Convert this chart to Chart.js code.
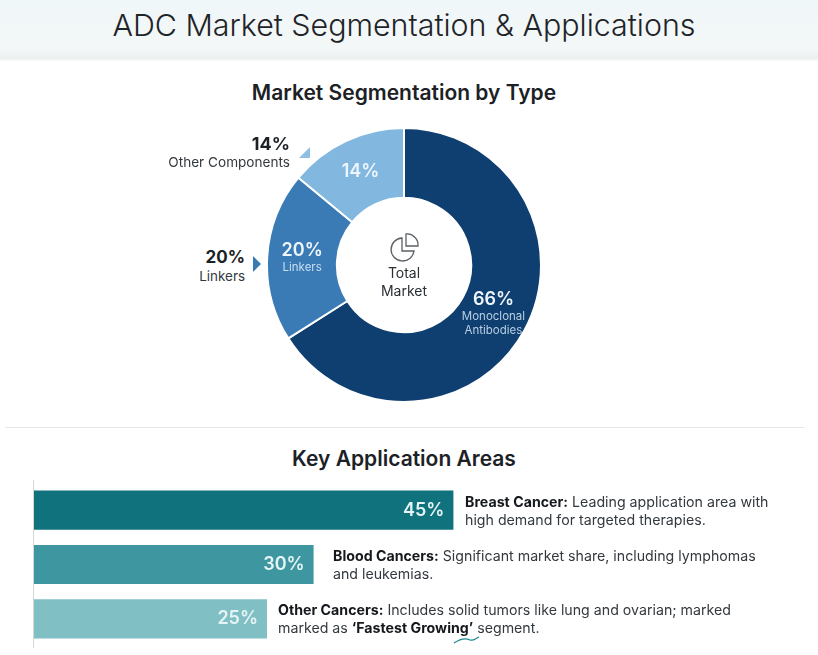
<!DOCTYPE html>
<html>
<head>
<meta charset="utf-8">
<title>ADC Market Segmentation & Applications</title>
<script src="https://cdn.jsdelivr.net/npm/chart.js@4"></script>
<style>
html, body { margin: 0; padding: 0; background: #fff; }
body { width: 818px; height: 655px; position: relative; overflow: hidden; font-family: Inter, sans-serif; color: #1c2126; }
.t { position: absolute; white-space: nowrap; line-height: 1; }
.c { transform: translateX(-50%); text-align: center; }
.r { text-align: right; }
#header { position: absolute; left: 0; top: 0; width: 818px; height: 59px; background: linear-gradient(#f0f7f8, #f3f7f8 80%, #ecf0f0); box-shadow: 0 1px 2px rgba(0, 0, 0, 0.08); }
#divider { position: absolute; left: 5px; top: 427px; width: 799px; height: 1px; background: #e3e7e8; }
#axisLine { position: absolute; left: 33px; top: 480px; width: 1px; height: 168px; background: #d5d8d9; }
canvas { position: absolute; }
.desc { font-size: 14.2px; color: #33393e; }
.desc b { color: #15191d; font-weight: 700; }
svg { position: absolute; overflow: visible; }
</style>
</head>
<body>
<div id="header"></div>
<div class="t c" style="left:404px;top:10px;font-size:30.4px;font-weight:300;color:#1f2428">ADC Market Segmentation &amp; Applications</div>
<div class="t c" style="left:404px;top:82px;font-size:21px;font-weight:600">Market Segmentation by Type</div>

<canvas id="donut" style="left:264px;top:125px" width="280" height="280"></canvas>

<div class="t r" style="right:528px;top:135px;font-size:18px;font-weight:700">14%</div>
<div class="t r" style="right:528px;top:156px;font-size:13.6px;color:#33393e">Other Components</div>
<svg style="left:299px;top:147px" width="12" height="12"><path d="M11 0V11H0Z" fill="#8fc0e4"/></svg>
<div class="t r" style="right:573px;top:249px;font-size:17px;font-weight:700">20%</div>
<div class="t r" style="right:573px;top:270px;font-size:13.4px;color:#33393e">Linkers</div>
<svg style="left:253px;top:256px" width="9" height="16"><path d="M0 0L8 8L0 16Z" fill="#3a7ab2"/></svg>

<svg style="left:389px;top:232px" width="30" height="30" fill="none" stroke="#5a6066" stroke-width="1.3">
  <path d="M13 6A11.5 11.5 0 1 0 25 19H13Z"/>
  <path d="M17 2A11 11 0 0 1 29 14H17Z"/>
</svg>
<div class="t c" style="left:404px;top:266px;font-size:14px;color:#2b3035">Total</div>
<div class="t c" style="left:404px;top:284px;font-size:14px;color:#2b3035">Market</div>

<div id="divider"></div>
<div class="t c" style="left:404px;top:448px;font-size:21px;font-weight:600">Key Application Areas</div>

<div id="axisLine"></div>
<canvas id="bars" style="left:34px;top:483px" width="466" height="163"></canvas>

<div class="t desc" style="left:465px;top:495px"><b>Breast Cancer:</b> Leading application area with</div>
<div class="t desc" style="left:465px;top:513px">high demand for targeted therapies.</div>
<div class="t desc" style="left:333px;top:549px"><b>Blood Cancers:</b> Significant market share, including lymphomas</div>
<div class="t desc" style="left:333px;top:567px">and leukemias.</div>
<div class="t desc" style="left:278px;top:603px"><b>Other Cancers:</b> Includes solid tumors like lung and ovarian; marked</div>
<div class="t desc" style="left:278px;top:621px">marked as <b>‘Fastest Growing’</b> segment.</div>
<svg style="left:453px;top:635px" width="28" height="10" fill="none" stroke="#1b8a92" stroke-width="1.2"><path d="M1 8C7 4 13 3 17 5C20 6 22 4 26 2"/></svg>

<script>
const segmentLabels = ['Monoclonal Antibodies', 'Linkers', 'Other Components'];
const segmentValues = [66, 20, 14];
const segmentColors = ['#0f3f70', '#3a7bb5', '#82b8e0'];
const segmentNameLines = [['Monoclonal', 'Antibodies'], ['Linkers'], []];

const appLabels = ['Breast Cancer', 'Blood Cancers', 'Other Cancers'];
const appValues = [45, 30, 25];
const appColors = ['#10727d', '#3e97a0', '#80c0c5'];

const sliceLabels = {
    id: 'sliceLabels',
    afterDatasetsDraw(chart) {
        const ctx = chart.ctx;
        const arcs = chart.getDatasetMeta(0).data;
        ctx.save();
        ctx.textAlign = 'center';
        ctx.textBaseline = 'middle';
        arcs.forEach((arc, i) => {
            const pos = arc.tooltipPosition();
            const names = segmentNameLines[i];
            const top = pos.y - names.length * 7 - 1;
            ctx.fillStyle = '#eef5fb';
            ctx.font = '600 18px Inter';
            ctx.fillText(segmentValues[i] + '%', pos.x, top);
            ctx.font = '400 11.5px Inter';
            ctx.fillStyle = i == 0 ? '#b9cfe3' : '#c9dff2';
            names.forEach((line, j) => {
                ctx.fillText(line, pos.x, top + 17 + j * 14);
            });
        });
        ctx.restore();
    }
};

const barLabels = {
    id: 'barLabels',
    afterDatasetsDraw(chart) {
        const ctx = chart.ctx;
        ctx.save();
        ctx.textAlign = 'right';
        ctx.textBaseline = 'middle';
        ctx.font = '600 18px Inter';
        ctx.fillStyle = '#e6f4f5';
        chart.getDatasetMeta(0).data.forEach((bar, i) => {
            ctx.fillText(appValues[i] + '%', bar.x - 9, bar.y);
        });
        ctx.restore();
    }
};

const setUpDonut = () => {
    new Chart(document.getElementById('donut'), {
        type: 'doughnut',
        data: {
            labels: segmentLabels,
            datasets: [{
                data: segmentValues,
                backgroundColor: segmentColors,
                borderColor: '#fff',
                borderWidth: 2
            }]
        },
        options: {
            responsive: false,
            animation: false,
            cutout: '49%',
            layout: { padding: 2 },
            plugins: { legend: { display: false }, tooltip: { enabled: false } }
        },
        plugins: [sliceLabels]
    });
};

const setUpBars = () => {
    new Chart(document.getElementById('bars'), {
        type: 'bar',
        data: {
            labels: appLabels,
            datasets: [{
                data: appValues,
                backgroundColor: appColors,
                barPercentage: 0.72,
                categoryPercentage: 1
            }]
        },
        options: {
            indexAxis: 'y',
            responsive: false,
            animation: false,
            scales: {
                x: { display: false, min: 0, max: 50 },
                y: { display: false }
            },
            plugins: { legend: { display: false }, tooltip: { enabled: false } }
        },
        plugins: [barLabels]
    });
};

document.fonts.ready.then(() => {
    setUpDonut();
    setUpBars();
});
</script>
</body>
</html>
